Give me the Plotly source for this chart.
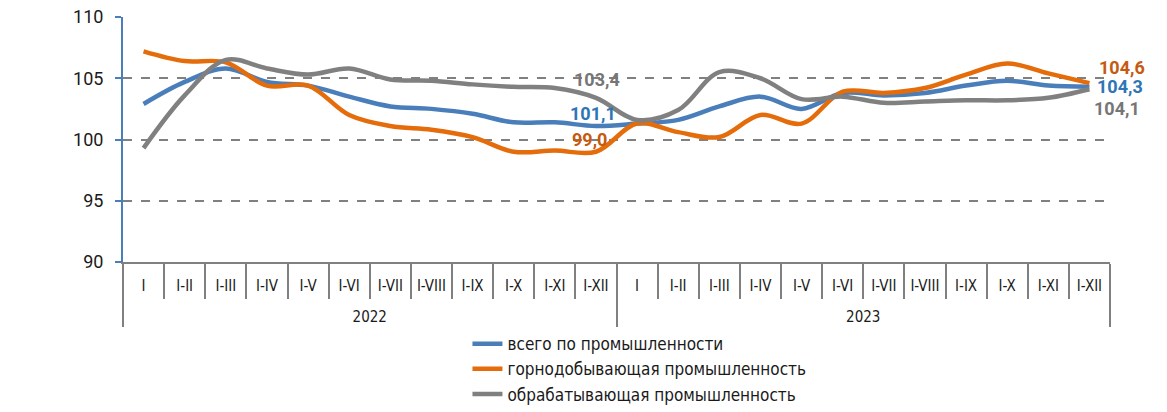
import plotly.graph_objects as go

# Данные
years = ["2022"] * 12 + ["2023"] * 12
months = ["I", "I-II", "I-III", "I-IV", "I-V", "I-VI", "I-VII", "I-VIII", "I-IX", "I-X", "I-XI", "I-XII"] * 2

total = [102.9, 104.7, 105.8, 104.7, 104.4, 103.5, 102.7, 102.5, 102.1, 101.4, 101.4, 101.1,
         101.3, 101.6, 102.7, 103.5, 102.5, 103.8, 103.6, 103.8, 104.4, 104.8, 104.4, 104.3]
mining = [107.2, 106.4, 106.3, 104.4, 104.4, 102.0, 101.1, 100.8, 100.2, 99.0, 99.1, 99.0,
          101.3, 100.6, 100.2, 102.0, 101.3, 103.9, 103.8, 104.2, 105.3, 106.2, 105.4, 104.6]
manuf = [99.3, 103.6, 106.5, 105.8, 105.3, 105.8, 104.9, 104.8, 104.5, 104.3, 104.2, 103.4,
         101.6, 102.4, 105.5, 105.0, 103.3, 103.5, 103.0, 103.1, 103.2, 103.2, 103.4, 104.1]

names = ["всего по промышленности", "горнодобывающая промышленность", "обрабатывающая промышленность"]
colors = ["#4a7ebb", "#e46c0a", "#808080"]
label_colors = ["#2e75b6", "#c55a11", "#767676"]
# смещения подписей (px) для I-XII 2022 и I-XII 2023
label_shift = [((-3, 13), (31, 0)), ((-6, 12), (33, 16)), ((1, 18), (28, -19))]

# пустая вторая строка опускает подписи годов ниже
months_lbl = [m + "<br> " for m in months]

fig = go.Figure()
for vals, name, col in zip([total, mining, manuf], names, colors):
    fig.add_trace(go.Scatter(
        x=[years, months_lbl], y=vals, name=name, mode="lines",
        line=dict(color=col, width=4.5, shape="spline", smoothing=1),
    ))

for vals, lcol, shifts in zip([total, mining, manuf], label_colors, label_shift):
    for i, (dx, dy) in zip((11, 23), shifts):
        fig.add_annotation(
            x=i, y=vals[i], xref="x", yref="y",
            text=f"{vals[i]:.1f}".replace(".", ","), showarrow=False,
            xshift=dx, yshift=dy,
            font=dict(family="Roboto", size=18, color=lcol, weight="bold"),
        )

fig.update_layout(
    width=1167, height=412,
    margin=dict(l=123, r=57, t=17, b=150, autoexpand=False),
    plot_bgcolor="white", paper_bgcolor="white",
    font=dict(family="Liberation Sans Narrow, DejaVu Sans Condensed, Arial Narrow", size=16, color="#1a1a1a"),
    showlegend=True,
    legend=dict(x=0.349, xanchor="left", y=-0.262, yanchor="top", orientation="v",
                font=dict(size=17), bgcolor="rgba(0,0,0,0)", tracegroupgap=0),
)
fig.update_xaxes(
    type="multicategory", range=[-0.5, 23.5], showgrid=False, automargin=False, tickangle=0,
    showline=True, linecolor="#808080", linewidth=2,
    ticks="outside", tickson="boundaries", ticklen=35, tickcolor="#808080", tickwidth=2,
    showdividers=True, dividercolor="#808080", dividerwidth=2,
    ticklabelstandoff=9,
    tickfont=dict(size=15),
)
fig.update_yaxes(
    range=[90, 110], dtick=5, showgrid=True, gridcolor="#808080", gridwidth=2, griddash="dash",
    showline=True, linecolor="#4a7ebb", linewidth=2, zeroline=False, automargin=False,
    ticks="outside", ticklen=6, tickcolor="#4a7ebb", tickwidth=2,
    ticklabelstandoff=8, ticklabeloverflow="allow",
    tickfont=dict(family="Roboto", size=18, color="#1a1a1a"),
)

# убираем отступ body, чтобы график занял всё окно
fig.write_html("out.html", config={"displayModeBar": False},
               post_script="document.body.style.margin='0';")
